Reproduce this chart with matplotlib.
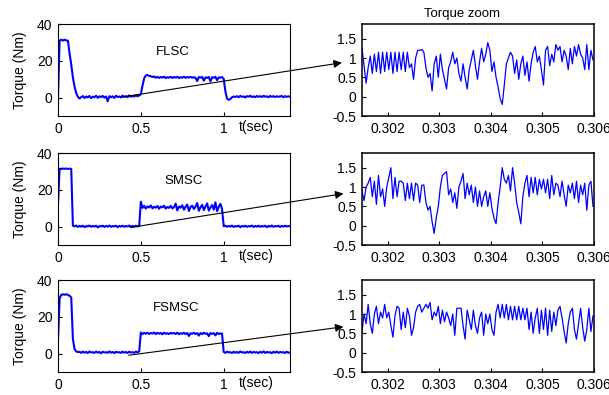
import numpy as np
import matplotlib
matplotlib.use('Agg')
from matplotlib import pyplot as plt
from matplotlib.patches import ConnectionPatch

plt.rcParams['font.family'] = ['Liberation Sans', 'DejaVu Sans']
plt.rcParams['font.size'] = 10

# Torque over the whole run, one sample every 0.01 s (0 .. 1.4 s)
dt_full = 0.01
flsc = [0, 31, 31.5, 31, 31.5, 31, 31, 24, 18, 11, 6, 2.5, 0.5, -0.5, 0.3,
        0.8, -0.2, 0.6, 0.1, 0.9, -0.3, 0.5, 0.2, 1.0, -0.1, 0.7, 0.3, 0.9, 0.0, 0.6,
        -2.0, 0.8, 0.2, 0.7, -0.2, 1.0, 0.3, 0.6, 0.1, 1.1, 0.4, 0.8, 0.2, 1.2, 0.5,
        0.9, 0.6, 1.3, 0.7, 1.2,
        1.8, 6.5, 10.5, 12.0, 12.3, 11.8, 11.6, 11.2, 11.5,
        10.8, 11.3, 10.7, 11.2, 10.9, 11.4, 10.6, 11.1, 10.8, 11.3, 10.7, 11.2, 10.9,
        11.3, 10.6, 11.1, 10.8, 11.4, 10.7, 11.2, 10.9, 11.3, 10.8, 11.1, 10.7, 9.0,
        11.2, 10.8, 11.3, 9.2, 11.0, 10.7, 11.2, 8.8, 11.1, 10.8, 11.3, 9.5, 11.0,
        10.8, 11.2,
        10.2, 3.5, -0.5, -1.2, -0.8, 0.2, 0.6,
        0.3, 0.8, 0.2, 0.9, 0.4, 0.7, 0.1, 0.8, 0.5, 1.0, 0.3, 0.7, 0.2, 0.9, 0.4,
        0.8, 0.3, 1.0, 0.5, 0.7, 0.2, 0.9, 0.4, 0.8, 0.3, 0.7, 0.5, 0.6, 0.9, 0.2,
        0.8, 0.4, 0.7, 0.5]
smsc = [12, 31.5, 31.3, 31.6, 31.4, 31.6, 31.3, 31.5, 31.4,
        0.5, 0.1, 0.6, -0.2, 0.4, 0.0, 0.5, -0.3, 0.3, 0.1,
        0.6, -0.1, 0.4, 0.0, 0.5, -0.4, 0.3, 0.1, 0.5, -0.2,
        0.4, 0.0, 0.6, -0.1, 0.3, 0.1, 0.5, -0.3, 0.4, 0.0,
        0.5, -0.1, 0.3, 0.1, 0.6, -0.2, 0.4, 0.0, 0.5, 0.1, 0.3,
        13.5, 10.2, 11.3, 9.8, 11.0, 10.4, 11.5, 9.9, 10.8, 10.3,
        11.2, 9.7, 10.9, 10.5, 11.4, 9.8, 10.7, 10.2, 11.3, 9.9,
        10.6, 12.5, 8.8, 10.9, 10.3, 11.6, 9.2, 10.8, 12.0, 8.5,
        10.7, 11.4, 9.6, 10.9, 12.8, 8.6, 10.5, 11.8, 9.0, 10.9,
        12.6, 8.7, 10.4, 11.7, 9.3, 13.2, 8.4, 10.8, 12.4, 9.5,
        0.2, 0.5, -0.1, 0.4, 0.0, 0.6, -0.2, 0.3, 0.1, 0.5,
        -0.3, 0.4, 0.0, 0.5, -0.1, 0.3, 0.1, 0.6, -0.2, 0.4,
        0.0, 0.5, -0.1, 0.3, 0.1, 0.5, -0.3, 0.4, 0.0, 0.6,
        -0.1, 0.3, 0.1, 0.5, -0.2, 0.4, 0.0, 0.5, 0.1, 0.3, 0.2]
fsmsc = [7, 30, 32, 32.2, 32, 32.3, 31.8, 31.5, 30.5, 8, 2.5, 1.2, 0.8,
         1.0, 0.4, 1.1, 0.5, 0.9, 0.3, 1.2, 0.6, 0.8, 0.4,
         1.1, 0.5, 0.9, 0.2, 1.0, 0.6, 0.8, 0.4, 1.2, 0.5,
         0.9, 0.3, 1.0, 0.6, 0.8, 0.4, 1.1, 0.5, 0.9, 0.3,
         1.0, 0.6, 0.8, 0.4, 1.1, 0.7, 1.2,
         11.5, 10.6, 11.3, 10.8, 11.4, 10.7, 11.2, 10.9, 11.5, 10.6,
         11.3, 10.8, 11.2, 10.5, 11.4, 10.8, 11.1, 10.6, 11.3, 10.9,
         11.2, 10.7, 11.4, 10.5, 11.1, 10.8, 11.3, 10.6, 11.2, 9.6,
         11.0, 10.8, 11.3, 10.7, 11.1, 9.8, 11.2, 10.6, 11.3, 10.8,
         11.0, 9.5, 11.2, 10.7, 11.1, 9.9, 11.3, 10.6, 11.0, 10.8,
         0.9, 0.4, 1.1, 0.6, 0.8, 0.3, 1.0, 0.5, 0.9, 0.4,
         1.2, 0.6, 0.8, 0.3, 1.0, 0.5, 1.1, 0.4, 0.9, 0.6,
         0.8, 0.3, 1.0, 0.5, 1.2, 0.4, 0.9, 0.6, 0.8, 0.2,
         1.0, 0.5, 1.1, 0.4, 0.9, 0.6, 0.8, 0.3, 1.0, 0.5, 0.7]

# Zoomed torque, one sample every 40 us starting at 0.3015 s
t0_zoom = 0.3015
dt_zoom = 4e-5
flsc_zoom = [1.25, 0.8, 0.35, 0.75, 1.05, 0.6, 1.1, 0.65, 1.15, 0.6,
             1.15, 0.65, 1.15, 0.7, 1.15, 0.6, 1.15, 0.65, 1.15, 0.7,
             1.15, 0.65, 1.15, 0.75, 0.85, 0.45, 1.0, 1.2, 1.2, 1.22,
             1.15, 0.75, 0.5, 0.6, 0.15, 0.85, 1.05, 0.5, 1.1, 0.7,
             0.45, 0.2, 0.75, 0.9, 1.15, 0.85, 1.0, 0.6, 0.4, 0.85,
             0.5, 0.2, 0.7, 0.95, 1.2, 0.8, 0.45, 0.9, 1.25, 0.9,
             1.1, 1.4, 1.2, 0.65, 0.9, 0.5, 0.25, -0.05, -0.2, 0.3,
             0.85, 1.0, 1.15, 1.05, 0.6, 0.95, 0.45, 0.85, 1.05, 0.55,
             0.9, 0.4, 0.85, 1.15, 1.3, 0.9, 1.05, 0.7, 0.3, 1.2,
             1.3, 0.8, 1.1, 0.9, 1.35, 1.2, 1.3, 0.9, 1.2, 1.05,
             0.7, 1.25, 0.85, 1.3, 1.05, 1.35, 1.1, 1.0, 0.7, 1.35,
             0.7, 1.2, 0.95]
smsc_zoom = [0.9, 0.65, 1.0, 1.1, 1.25, 0.75, 1.15, 0.55, 1.3, 0.75,
             0.95, 0.5, 1.0, 1.25, 1.5, 0.7, 1.25, 0.75, 1.15, 1.15,
             1.1, 0.65, 1.1, 0.7, 1.1, 0.65, 1.1, 1.05, 0.6, 1.05,
             1.05, 0.6, 0.4, 0.5, 0.1, -0.2, 0.2, 0.5, 1.0, 1.3,
             1.35, 1.4, 0.8, 0.95, 0.6, 0.85, 0.45, 1.0, 1.15, 1.35,
             0.7, 1.1, 0.8, 1.05, 0.6, 1.0, 0.5, 0.9, 0.5, 0.75,
             0.9, 0.5, 0.85, 0.45, 0.2, 0.05, 0.6, 1.0, 1.5, 1.2,
             1.1, 1.3, 0.9, 1.5, 1.1, 0.6, 0.35, 0.05, 0.75, 1.1,
             1.3, 0.75, 1.25, 0.85, 1.25, 0.8, 1.2, 0.95, 1.2, 0.85,
             1.2, 0.7, 1.3, 0.8, 1.1, 1.05, 0.75, 1.15, 0.8, 0.5,
             1.05, 0.85, 1.1, 0.7, 1.15, 0.6, 1.05, 0.8, 1.1, 0.4,
             1.05, 1.15, 0.5]
fsmsc_zoom = [0.55, 1.0, 0.75, 1.25, 0.75, 0.5, 1.0, 1.2, 0.75, 1.05,
              0.9, 1.25, 0.9, 1.05, 0.7, 0.4, 0.95, 1.2, 1.15, 0.6,
              1.05, 0.65, 1.15, 0.95, 0.45, 0.65, 1.05, 1.2, 1.25, 1.05,
              1.15, 1.25, 1.15, 1.3, 0.85, 1.05, 0.95, 1.2, 0.75, 1.1,
              0.8, 1.05, 0.9, 0.7, 1.0, 0.45, 1.15, 1.15, 1.15, 0.7,
              0.35, 1.1, 0.85, 0.6, 1.1, 0.7, 0.5, 0.9, 1.05, 0.45,
              1.0, 0.75, 1.0, 0.6, 0.45, 1.05, 1.25, 0.9, 1.25, 0.9,
              1.25, 0.85, 1.2, 0.85, 1.2, 0.85, 1.2, 0.85, 1.15, 0.85,
              1.15, 0.6, 1.05, 0.5, 0.9, 1.15, 0.5, 1.1, 0.6, 1.15,
              0.45, 1.1, 0.55, 1.05, 0.7, 1.1, 1.2, 0.9, 0.55, 0.25,
              0.75, 1.05, 1.15, 0.6, 0.35, 0.75, 1.15, 0.65, 0.3, 0.6,
              1.15, 0.55, 0.95]

names = ['FLSC', 'SMSC', 'FSMSC']
name_x = [0.69, 0.756, 0.713]
full_series = [flsc, smsc, fsmsc]
zoom_series = [flsc_zoom, smsc_zoom, fsmsc_zoom]
# where the arrow leaves the full plot (t, torque) and lands by the zoom plot
arrow_from = [(0.386, 0.3), (0.436, -0.5), (0.426, -0.9)]
arrow_to = [(0.30111, 0.88), (0.30114, 0.83), (0.30114, 0.67)]

blue = '#0000ff'
fig = plt.figure(figsize=(6.09, 3.95), dpi=100)
bottoms = [0.7063, 0.3797, 0.0582]
h = 0.2329

for row in range(3):
    ax = fig.add_axes([0.0952, bottoms[row], 0.381, h])
    y = np.array(full_series[row])
    t = np.arange(len(y)) * dt_full
    ax.plot(t, y, color=blue, lw=1.5)
    ax.set_xlim(0, 1.4)
    ax.set_ylim(-10, 40)
    ax.set_xticks([0, 0.5, 1])
    ax.set_xticklabels(['0', '0.5', '1'])
    ax.set_yticks([0, 20, 40])
    ax.set_ylabel('Torque (Nm)', labelpad=7)
    ax.tick_params(direction='in', length=3, pad=4)
    ax.text(name_x[row], 25, names[row], ha='center', va='center', fontsize=9.5)
    ax.text(0.78, -0.12, 't(sec)', transform=ax.transAxes, ha='left', va='center')

    axz = fig.add_axes([0.5944, bottoms[row], 0.381, h])
    yz = np.array(zoom_series[row])
    tz = t0_zoom + np.arange(len(yz)) * dt_zoom
    axz.plot(tz, yz, color=blue, lw=0.9)
    axz.set_xlim(0.3015, 0.306)
    axz.set_ylim(-0.5, 1.88)
    axz.set_xticks([0.302, 0.303, 0.304, 0.305, 0.306])
    axz.set_xticklabels(['0.302', '0.303', '0.304', '0.305', '0.306'])
    axz.set_yticks([-0.5, 0, 0.5, 1, 1.5])
    axz.set_yticklabels(['-0.5', '0', '0.5', '1', '1.5'])
    axz.tick_params(direction='in', length=3, pad=4)
    for s in axz.spines.values():
        s.set_linewidth(1.1)
    if row == 0:
        axz.text(0.433, 1.11, 'Torque zoom', transform=axz.transAxes,
                 ha='center', va='center', fontsize=9.5)

    con = ConnectionPatch(xyA=arrow_from[row], coordsA=ax.transData,
                          xyB=arrow_to[row], coordsB=axz.transData,
                          arrowstyle='-|>', color='k', lw=0.8, mutation_scale=12)
    fig.add_artist(con)

fig.savefig('out.png', dpi=100)
